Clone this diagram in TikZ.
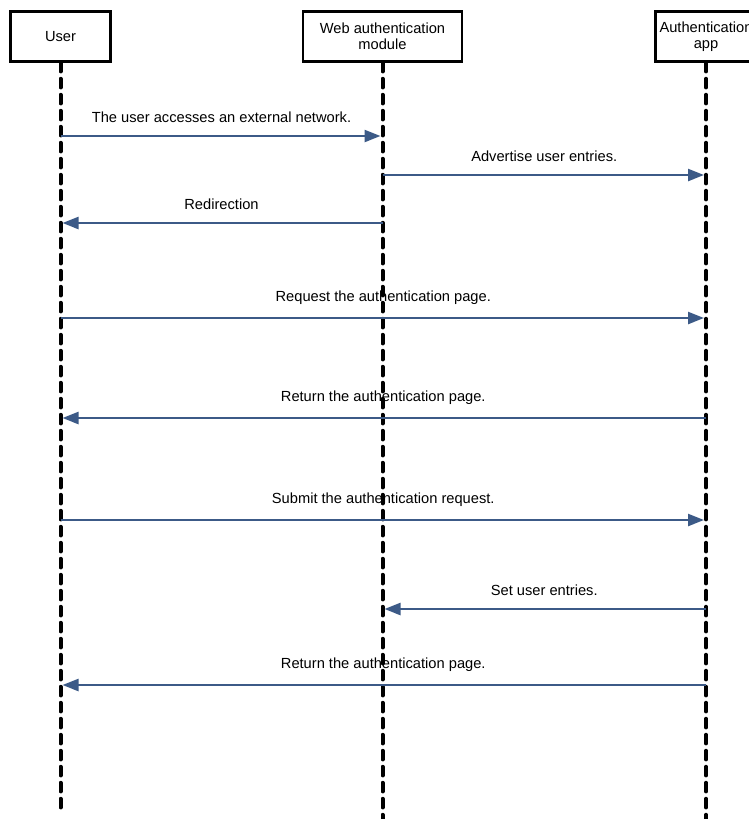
\documentclass[tikz,border=0pt]{standalone}
\usepackage{fontspec}
\setmainfont{Liberation Sans}
\usetikzlibrary{arrows.meta}
\definecolor{msgblue}{HTML}{3C5A87}

\begin{document}
\begin{tikzpicture}[x=0.75pt,y=-0.75pt,font=\fontsize{11}{12}\selectfont,
 actor/.style={draw,line width=1.9pt,minimum height=37.5pt,align=center,inner sep=2pt},
 lifeline/.style={line width=3pt,line cap=round,dash pattern=on 6.5pt off 5.5pt},
 msg/.style={-{Triangle[length=12pt,width=9pt]},line width=1.8pt,msgblue,shorten >=1.5pt},
 lbl/.style={midway,above=6pt,text=black}]
 \useasboundingbox (0,0) rectangle (749,819);
 \begin{scope}
  \clip (0,0) rectangle (749,819);
  \node[actor,minimum width=75pt] (user) at (60.5,36.5) {User};
  \node[actor,minimum width=119pt] (web) at (382.5,36.5) {Web authentication\\module};
  \node[actor,minimum width=76pt] (app) at (706,36.5) {Authentication\\app};
 \end{scope}
 \coordinate (userend) at (61,810);
 \coordinate (webend) at (382,819);
 \coordinate (append) at (706,819);
 \draw[lifeline] (user.south) -- (user.south |- userend);
 \draw[lifeline] (web.south) -- (web.south |- webend);
 \draw[lifeline] (app.south) -- (app.south |- append);
 % messages
 \draw[msg] (user |- 0,136) -- node[lbl]{The user accesses an external network.} (web |- 0,136);
 \draw[msg] (web |- 0,175) -- node[lbl]{Advertise user entries.} (app |- 0,175);
 \draw[msg] (web |- 0,223) -- node[lbl]{Redirection} (user |- 0,223);
 \draw[msg] (user |- 0,318) -- node[lbl]{Request the authentication page.} (app |- 0,318);
 \draw[msg] (app |- 0,418) -- node[lbl]{Return the authentication page.} (user |- 0,418);
 \draw[msg] (user |- 0,520) -- node[lbl]{Submit the authentication request.} (app |- 0,520);
 \draw[msg] (app |- 0,609) -- node[lbl]{Set user entries.} (web |- 0,609);
 \draw[msg] (app |- 0,685) -- node[lbl]{Return the authentication page.} (user |- 0,685);
\end{tikzpicture}
\end{document}
